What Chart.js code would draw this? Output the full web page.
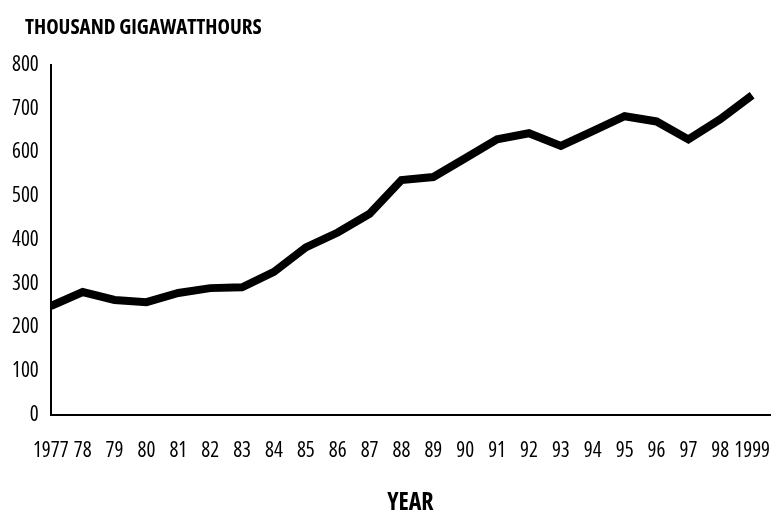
<!DOCTYPE html>
<html>
<head>
<meta charset="utf-8">
<script src="https://cdn.jsdelivr.net/npm/chart.js@4"></script>
<style>
  html, body { margin: 0; padding: 0; background: #fff; }
  #wrap { width: 777px; height: 518px; position: relative; }
</style>
</head>
<body>
<div id="wrap"><canvas id="c"></canvas></div>
<script>
// values
const years = [1977, 1978, 1979, 1980, 1981, 1982, 1983, 1984, 1985, 1986, 1987,
               1988, 1989, 1990, 1991, 1992, 1993, 1994, 1995, 1996, 1997, 1998, 1999];
const gigawattHours = [249, 281, 263, 258, 279, 290, 292, 327, 383, 417, 460,
                       537, 544, 587, 630, 644, 615, 649, 683, 671, 630, 676, 731];
const yTicks = [0, 100, 200, 300, 400, 500, 600, 700, 800];

const unitTitle = 'THOUSAND GIGAWATTHOURS';
const xTitle = 'YEAR';
// Open Sans is a variable font here, so 'condensed' narrows it (passed via weight)
const fontFamily = '"Open Sans", sans-serif';

// draws the unit label in the top left corner
const unitLabel = {
    id: 'unitLabel',
    afterDraw(chart) {
        const ctx = chart.ctx;
        ctx.save();
        ctx.font = '700 condensed 21px ' + fontFamily;
        ctx.fillStyle = '#000';
        ctx.textBaseline = 'middle';
        ctx.textAlign = 'left';
        ctx.fillText(unitTitle, 25, 28);
        ctx.restore();
    }
};

new Chart(document.getElementById('c'), {
    type: 'line',
    data: {
        datasets: [{
            data: years.map((y, i) => ({ x: y, y: gigawattHours[i] })),
            borderColor: '#000',
            borderWidth: 8,
            pointRadius: 0,
            tension: 0,
            fill: false,
        }]
    },
    options: {
        responsive: true,
        maintainAspectRatio: false,
        animation: false,
        layout: { padding: { top: 65, right: 7, left: 0, bottom: 0 } },
        plugins: {
            legend: { display: false },
            tooltip: { enabled: false },
        },
        scales: {
            x: {
                type: 'linear',
                min: years[0],
                max: years[years.length - 1] + 0.56,
                grid: { display: false, drawTicks: false },
                border: { display: true, color: '#000', width: 2 },
                // let the edge labels hang over the plot ends
                afterFit: s => { s.paddingLeft = 0; s.paddingRight = 0; },
                ticks: {
                    stepSize: 1,
                    includeBounds: false,
                    autoSkip: false,
                    maxRotation: 0,
                    padding: 23,
                    color: '#000',
                    font: { size: 21, weight: 'condensed', family: fontFamily },
                    callback: v => {
                        const yr = Math.round(v);
                        return (yr === years[0] || yr === years[years.length - 1]) ? String(yr) : String(yr).slice(2);
                    }
                },
                title: {
                    display: true,
                    text: xTitle,
                    color: '#000',
                    padding: { top: 3, bottom: 0 },
                    font: { size: 24, weight: '700 condensed', family: fontFamily }
                }
            },
            y: {
                min: yTicks[0],
                max: yTicks[yTicks.length - 1],
                grid: { display: false, drawTicks: false },
                border: { display: true, color: '#000', width: 2 },
                afterBuildTicks: axis => { axis.ticks = yTicks.map(v => ({ value: v })); },
                ticks: {
                    padding: 12,
                    color: '#000',
                    font: { size: 21, weight: 'condensed', family: fontFamily }
                }
            }
        }
    },
    plugins: [unitLabel]
});
</script>
</body>
</html>
